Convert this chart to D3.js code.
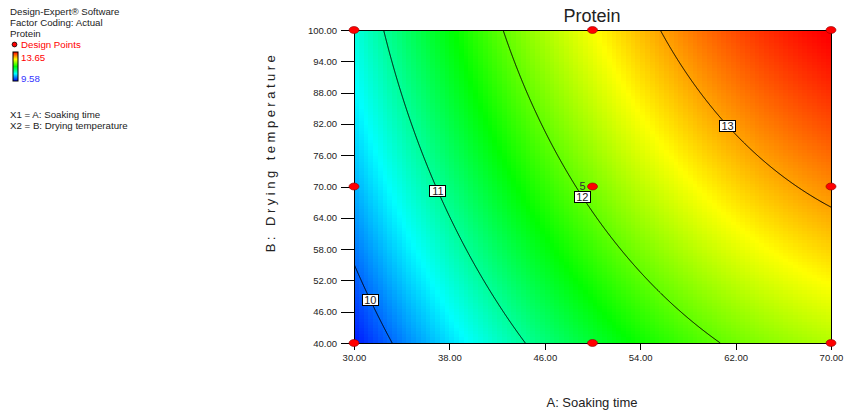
<!DOCTYPE html>
<html><head><meta charset="utf-8">
<script src="https://cdn.jsdelivr.net/npm/d3@7"></script>
<style>
html,body{margin:0;padding:0;background:#fff;}
svg{display:block;font-family:"Liberation Sans",Arial,sans-serif;}
</style></head>
<body>
<svg id="chart" width="844" height="414"></svg>
<script>
// ---- data ----
const chartTitle = "Protein";
const xTicks = [30, 38, 46, 54, 62, 70];
const yTicks = [40, 46, 52, 58, 64, 70, 76, 82, 88, 94, 100];
const xTitle = "A: Soaking time";
const yTitle = "B: Drying temperature";
// fitted quadratic model in coded units (x1=(A-50)/20, x2=(B-70)/30)
const modelTerms = ["Intercept", "A", "B", "AB", "A^2", "B^2"];
const modelCoefs = [12.10, 1.404, 0.603, 0.076, -0.413, -0.09];
const responseRange = [9.58, 13.65];
const contourLevels = [10, 11, 12, 13];
const contourLabelB = [48.25, 69.14, 68.05, 81.66];
const designA = [30, 30, 30, 50, 50, 50, 70, 70, 70];
const designB = [40, 70, 100, 40, 70, 100, 40, 70, 100];
const centerReplicates = 5;
const legendLines = ["Design-Expert\u00AE Software", "Factor Coding: Actual", "Protein"];
const factorLines = ["X1 = A: Soaking time", "X2 = B: Drying temperature"];

// ---- helpers ----
const [c0, cA, cB, cAB, cAA, cBB] = modelCoefs;
const code1 = a => (a - 50) / 20, code2 = b => (b - 70) / 30;
const uncode1 = x => x * 20 + 50;
function predict(a, b) {
  const x1 = code1(a), x2 = code2(b);
  return c0 + cA * x1 + cB * x2 + cAB * x1 * x2 + cAA * x1 * x1 + cBB * x2 * x2;
}
function solveA(level, b) {
  const x2 = code2(b);
  const qa = cAA, qb = cA + cAB * x2, qc = c0 + cB * x2 + cBB * x2 * x2 - level;
  const disc = qb * qb - 4 * qa * qc;
  if (disc < 0) return null;
  return uncode1((-qb + Math.sqrt(disc)) / (2 * qa));
}

const svg = d3.select("#chart");
const x = d3.scaleLinear().domain([30, 70]).range([354, 831]);
const y = d3.scaleLinear().domain([40, 100]).range([343, 30]);
const [lo, hi] = responseRange;
const color = d3.scaleLinear()
  .domain(d3.range(5).map(i => lo + (hi - lo) * i / 4))
  .range(["#0000ff", "#00ffff", "#00ff00", "#ffff00", "#ff0000"]);

// ---- heat cells ----
const n = 100;
const cells = [];
for (let i = 0; i < n; i++) for (let j = 0; j < n; j++) {
  const a0 = 30 + 40 * i / n, a1 = 30 + 40 * (i + 1) / n;
  const b0 = 40 + 60 * j / n, b1 = 40 + 60 * (j + 1) / n;
  cells.push({a0, a1, b0, b1, v: predict((a0 + a1) / 2, (b0 + b1) / 2)});
}
svg.append("g").attr("shape-rendering", "crispEdges").selectAll("rect").data(cells).join("rect")
  .attr("x", d => x(d.a0)).attr("y", d => y(d.b1))
  .attr("width", d => x(d.a1) - x(d.a0) + 0.6).attr("height", d => y(d.b0) - y(d.b1) + 0.6)
  .attr("fill", d => color(d.v));

// clip
svg.append("clipPath").attr("id", "plotclip").append("rect")
  .attr("x", 354).attr("y", 30).attr("width", 477).attr("height", 313);

// ---- contours ----
const line = d3.line().x(d => x(d[0])).y(d => y(d[1]));
const cg = svg.append("g").attr("clip-path", "url(#plotclip)");
contourLevels.forEach(L => {
  const pts = [];
  for (let k = 0; k <= 600; k++) {
    const b = 40 + 60 * k / 600;
    const a = solveA(L, b);
    if (a !== null && a >= 26 && a <= 74) pts.push([a, b]);
  }
  cg.append("path").attr("d", line(pts)).attr("fill", "none").attr("stroke", "#000").attr("stroke-width", 1);
});

// frame
svg.append("rect").attr("x", 354).attr("y", 30).attr("width", 477).attr("height", 313)
  .attr("fill", "none").attr("stroke", "#000").attr("stroke-width", 1).attr("shape-rendering", "crispEdges");

// ---- axes ----
const xAxis = svg.append("g").attr("transform", "translate(0,343)")
  .call(d3.axisBottom(x).tickValues(xTicks).tickFormat(d3.format(".2f")).tickSize(7).tickPadding(4));
const yAxis = svg.append("g").attr("transform", "translate(354,0)")
  .call(d3.axisLeft(y).tickValues(yTicks).tickFormat(d3.format(".2f")).tickSize(13).tickPadding(4));
[xAxis, yAxis].forEach(g => {
  g.select(".domain").remove();
  g.selectAll("line").attr("stroke", "#000").attr("shape-rendering", "crispEdges");
  g.selectAll("text").attr("font-size", 9.5).attr("fill", "#222").attr("font-family", "Liberation Sans, Arial, sans-serif");
});

// ---- contour labels ----
const lg = svg.append("g");
contourLevels.forEach((L, i) => {
  const b = contourLabelB[i], a = solveA(L, b);
  const cx = x(a), cy = y(b);
  lg.append("rect").attr("x", Math.round(cx - 8.5) + 0.5).attr("y", Math.round(cy - 6) + 0.5)
    .attr("width", 16).attr("height", 11).attr("fill", "#fff").attr("stroke", "#000");
  lg.append("text").attr("x", cx).attr("y", cy + 4).attr("text-anchor", "middle")
    .attr("font-size", 11).attr("fill", "#222").text(L);
});

// ---- design points ----
svg.append("g").selectAll("ellipse").data(designA.map((a, i) => [a, designB[i]])).join("ellipse")
  .attr("cx", d => x(d[0])).attr("cy", d => y(d[1])).attr("rx", 5).attr("ry", 3.5)
  .attr("fill", "#ff0000").attr("stroke", "#8b0000").attr("stroke-width", 0.6);
svg.append("text").attr("x", x(50) - 10).attr("y", y(70) + 3).attr("text-anchor", "middle")
  .attr("font-size", 11).attr("fill", "#333").text(centerReplicates);

// ---- titles ----
svg.append("text").attr("x", 592).attr("y", 22).attr("text-anchor", "middle")
  .attr("font-size", 18).attr("fill", "#222").text(chartTitle);
svg.append("text").attr("x", 592).attr("y", 407).attr("text-anchor", "middle")
  .attr("font-size", 13).attr("fill", "#222").text(xTitle);
svg.append("text").attr("transform", "translate(275,152) rotate(-90)").attr("text-anchor", "middle")
  .attr("font-size", 13).attr("letter-spacing", 3.5).attr("fill", "#222").text(yTitle);

// ---- legend ----
const leg = svg.append("g").attr("font-size", 9.7).attr("fill", "#222");
legendLines.forEach((t, i) => leg.append("text").attr("x", 10).attr("y", 14.5 + 11 * i).text(t));
leg.append("circle").attr("cx", 14.5).attr("cy", 44.5).attr("r", 2.4).attr("fill", "#ff0000").attr("stroke", "#000").attr("stroke-width", 0.8);
leg.append("text").attr("x", 21).attr("y", 48).attr("fill", "#ff0000").text("Design Points");
const grad = svg.append("defs").append("linearGradient").attr("id", "cbar")
  .attr("x1", 0).attr("y1", 1).attr("x2", 0).attr("y2", 0);
color.range().forEach((c, i) => grad.append("stop").attr("offset", i / 4).attr("stop-color", c));
leg.append("rect").attr("x", 13).attr("y", 52).attr("width", 5).attr("height", 29)
  .attr("fill", "url(#cbar)").attr("stroke", "#000").attr("stroke-width", 1);
leg.append("text").attr("x", 21).attr("y", 60.5).attr("fill", "#ff0000").text(hi.toFixed(2));
leg.append("text").attr("x", 21).attr("y", 82).attr("fill", "#3333ff").text(lo.toFixed(2));
factorLines.forEach((t, i) => leg.append("text").attr("x", 10).attr("y", 117.5 + 11 * i).text(t));
</script>
</body></html>
